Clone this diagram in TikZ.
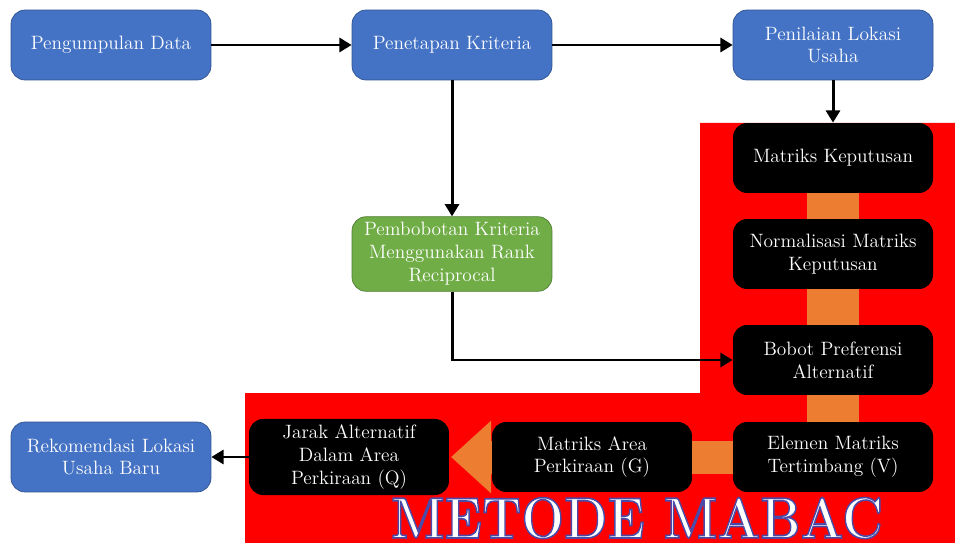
\documentclass[tikz,border=0pt]{standalone}
\usepackage{tikz}
\usetikzlibrary{arrows.meta, positioning}
\definecolor{bluebox}{HTML}{4472C4}
\definecolor{blueline}{HTML}{2F528F}
\definecolor{greenbox}{HTML}{70AD47}
\definecolor{greenline}{HTML}{507E32}
\definecolor{mabacred}{HTML}{FF0000}
\definecolor{mabacorange}{HTML}{ED7D31}
\newcommand{\outlinetext}[1]{%
  \special{pdf:literal direct 2 Tr 0.9 w 0.29 0.29 0.66 RG}#1\special{pdf:literal direct 0 Tr}}

\begin{document}
\begin{tikzpicture}[x=0.02cm, y=-0.02cm,
    box/.style={rounded corners=8pt, minimum width=4cm, minimum height=1.4cm,
                align=center, text=white, font=\fontsize{11}{13}\selectfont},
    bluebox/.style={box, fill=bluebox, draw=blueline},
    greenbox/.style={box, fill=greenbox, draw=greenline},
    blackbox/.style={box, fill=black},
    flow/.style={line width=1.7pt, -{Triangle[length=7pt,width=8pt]}}]
    \useasboundingbox (0,0) rectangle (955,543);

    % Red area of the MABAC method
    \fill[mabacred] (700,123) -- (955,123) -- (955,543) -- (245,543)
        -- (245,393) -- (700,393) -- cycle;

    % Top row
    \node[bluebox] (data) at (111,45) {Pengumpulan Data};
    \node[bluebox] (kriteria) at (452,45) {Penetapan Kriteria};
    \node[bluebox] (lokasi) at (833,45) {Penilaian Lokasi\\Usaha};

    % Weighting
    \node[greenbox] (bobot) at (452,254) {Pembobotan Kriteria\\Menggunakan Rank\\Reciprocal};

    % Positions of the MABAC steps
    \coordinate (mk) at (833,158);
    \coordinate (ev) at (833,457);
    \coordinate (jqe) at (451,457);

    % Orange bands behind the steps
    \draw[mabacorange, line width=1.04cm] (mk) -- (ev);
    \draw[mabacorange, line width=0.66cm, -{Triangle[length=0.8cm,width=1.4cm]}] (ev) -- (jqe);

    % MABAC steps
    \node[blackbox] (keputusan) at (mk) {Matriks Keputusan};
    \node[blackbox] (normal) at (833,254) {Normalisasi Matriks\\Keputusan};
    \node[blackbox] (preferensi) at (833,360) {Bobot Preferensi\\Alternatif};
    \node[blackbox] (elemen) at (ev) {Elemen Matriks\\Tertimbang (V)};
    \node[blackbox] (area) at (592,457) {Matriks Area\\Perkiraan (G)};
    \node[blackbox] (jarak) at (349,457) {Jarak Alternatif\\Dalam Area\\Perkiraan (Q)};

    % Result
    \node[bluebox] (rekomendasi) at (111,457) {Rekomendasi Lokasi\\Usaha Baru};

    % Title
    \node[font=\fontsize{33}{36}\selectfont\bfseries, text=white, anchor=base, inner sep=0pt] (judul) at (637,538)
        {\scalebox{0.87}[1]{\outlinetext{METODE MABAC}}};

    % Connectors
    \draw[flow] (data) -- (kriteria);
    \draw[flow] (kriteria) -- (lokasi);
    \draw[flow] (lokasi) -- (keputusan);
    \draw[flow] (kriteria) -- (bobot);
    \draw[flow] (bobot.south) |- (preferensi.west);
    \draw[flow] (jarak) -- (rekomendasi);

\end{tikzpicture}
\end{document}
